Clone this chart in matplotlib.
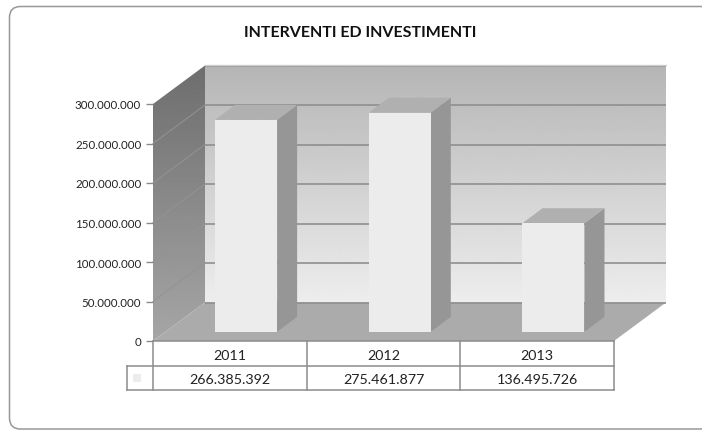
import numpy as np
import matplotlib
matplotlib.use("Agg")
import matplotlib.pyplot as plt
from matplotlib.patches import Polygon, FancyBboxPatch
from matplotlib.ticker import FuncFormatter

years = ["2011", "2012", "2013"]
values = [266385392, 275461877, 136495726]
value_labels = ["266.385.392", "275.461.877", "136.495.726"]
title = "INTERVENTI ED INVESTIMENTI"
y_ticks = [0, 50000000, 100000000, 150000000, 200000000, 250000000, 300000000]

W, H = 702, 431
plt.rcParams["font.family"] = ["Lato", "DejaVu Sans"]
fig = plt.figure(figsize=(W / 100, H / 100), dpi=100, facecolor="white")

bg = fig.add_axes([0, 0, 1, 1])
bg.set_xlim(0, W); bg.set_ylim(H, 0); bg.axis("off")
bg.add_patch(FancyBboxPatch((9.5, 7.5), 702, 422.5, boxstyle="round,pad=0,rounding_size=11",
                            fc="white", ec="#989898", lw=1.1, clip_on=True))
bg.text(360, 33, title, ha="center", va="center", fontsize=11.55, fontweight="bold", color="#111111")

L, R, T, B = 153, 614, 105, 342
ax = fig.add_axes([L / W, 1 - B / H, (R - L) / W, (B - T) / H])
ax.set_xlim(-0.5, 2.5); ax.set_ylim(0, 300000000)
ax.patch.set_visible(False)
for s in ax.spines.values():
    s.set_visible(False)
ax.set_xticks([])
ax.set_yticks(y_ticks)
ax.yaxis.set_major_formatter(FuncFormatter(lambda v, p: f"{int(v):,}".replace(",", ".")))
ax.tick_params(axis="y", length=5, width=1, color="#8a8a8a", labelsize=8.3, labelcolor="#222222", pad=3.5)

ux = 3 / (R - L)
uy = 300000000 / (B - T)
DX, DY = 52, 38.5

def P(x, v, dx=0, dy=0):
    return (x + dx * ux, v + dy * uy)

x0, x1 = -0.5, 2.5
vmax = y_ticks[-1]

# back wall
g = np.linspace(0.71, 0.93, 256).reshape(-1, 1)
ax.imshow(g, cmap="gray", vmin=0, vmax=1, aspect="auto", zorder=1, clip_on=False,
          extent=(P(x0, 0, DX)[0], P(x1, 0, DX)[0], P(0, 0, 0, DY)[1], P(0, vmax, 0, DY)[1]))

# left wall with vertical gradient clipped to its shape
wall = Polygon([P(x0, 0), P(x0, 0, DX, DY), P(x0, vmax, DX, DY), P(x0, vmax)],
               closed=True, fc="none", ec="none", transform=ax.transData, clip_on=False)
ax.add_patch(wall)
g2 = np.linspace(0.43, 0.65, 256).reshape(-1, 1)
im = ax.imshow(g2, cmap="gray", vmin=0, vmax=1, aspect="auto", zorder=1.1,
               extent=(P(x0, 0)[0], P(x0, 0, DX)[0], 0, P(0, vmax, 0, DY)[1]))
im.set_clip_path(wall)
im.set_clip_box(fig.bbox)
ax.set_xlim(-0.5, 2.5); ax.set_ylim(0, 300000000)

# floor
ax.add_patch(Polygon([P(x0, 0), P(x1, 0), P(x1, 0, DX, DY), P(x0, 0, DX, DY)], closed=True,
                     fc="#ababab", ec="none", zorder=1.2, clip_on=False))

# gridlines
for t in y_ticks:
    ax.plot(*zip(P(x0, t, DX, DY), P(x1, t, DX, DY)), color="#8f8f8f", lw=1.2, zorder=1.3,
            clip_on=False, solid_capstyle="butt")
    if 0 < t < vmax:
        ax.plot(*zip(P(x0, t), P(x0, t, DX, DY)), color="#939393", lw=0.7, zorder=1.3, clip_on=False)
ax.plot(*zip(P(x0, vmax, DX, DY + 1), P(x1, vmax, DX, DY + 1)), color="#d0d0d0", lw=1, zorder=1.3, clip_on=False)

# bars
half = 31 * ux
sdx, sdy = 16.3, 9.2
bdx, bdy = 20, 15
k = 1.007
for i, v in enumerate(values):
    v2 = v * k
    a = i - half
    b = i + half
    ax.add_patch(Polygon([P(b, 0, sdx, sdy), P(b, 0, sdx + bdx, sdy + bdy), P(b, v2, sdx + bdx, sdy + bdy), P(b, v2, sdx, sdy)],
                         closed=True, fc="#969696", ec="none", zorder=3, clip_on=False))
    ax.add_patch(Polygon([P(a, v2, sdx, sdy), P(b, v2, sdx, sdy), P(b, v2, sdx + bdx, sdy + bdy), P(a, v2, sdx + bdx, sdy + bdy)],
                         closed=True, fc="#b0b0b0", ec="none", zorder=3, clip_on=False))
    ax.add_patch(Polygon([P(a, 0, sdx, sdy), P(b, 0, sdx, sdy), P(b, v2, sdx, sdy), P(a, v2, sdx, sdy)],
                         closed=True, fc="#ececec", ec="none", zorder=3.1, clip_on=False))

# data table
col = "#8c8c8c"
row1, row2, row3 = 0, -25, -49
def hline(xa, xb, dy):
    ax.plot(*zip(P(xa, 0, 0, dy), P(xb, 0, 0, dy)), color=col, lw=1.1, zorder=4, clip_on=False, solid_capstyle="projecting")
def vline(x, a, b):
    ax.plot(*zip(P(x, 0, 0, a), P(x, 0, 0, b)), color=col, lw=1.1, zorder=4, clip_on=False, solid_capstyle="projecting")
key_l = x0 - 26 * ux
hline(x0, x1, row1)
hline(key_l, x1, row2)
hline(key_l, x1, row3)
vline(key_l, row2, row3)
for i in range(4):
    vline(x0 + i, row1, row3)
for i in range(3):
    ax.text(*P(i, 0, 0, -14), years[i], ha="center", va="center", fontsize=10.3, color="#222222", clip_on=False)
    ax.text(*P(i, 0, 0, -37.5), value_labels[i], ha="center", va="center", fontsize=10.3, color="#222222", clip_on=False)
ax.add_patch(Polygon([P(key_l, 0, 6, -33), P(key_l, 0, 14, -33), P(key_l, 0, 14, -41), P(key_l, 0, 6, -41)],
                     closed=True, fc="#ececec", ec="none", zorder=4, clip_on=False))

fig.savefig("out.png", dpi=100, facecolor="white")
